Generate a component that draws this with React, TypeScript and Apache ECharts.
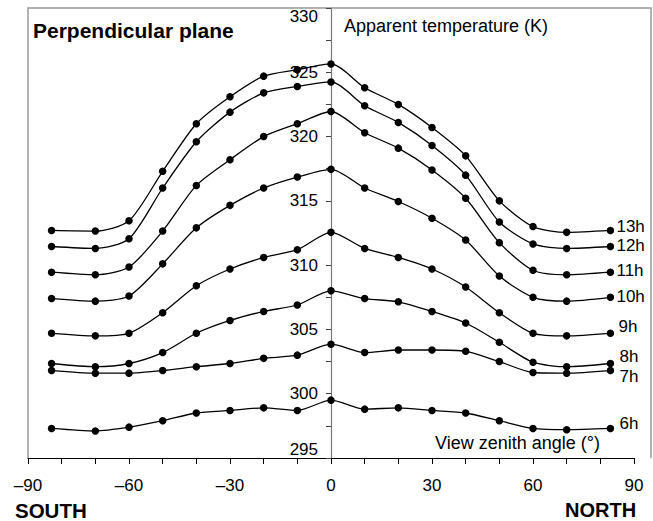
import React, { useEffect, useRef } from "react";
import * as echarts from "echarts";

const zenithAngles = [-83, -70, -60, -50, -40, -30, -20, -10, 0, 10, 20, 30, 40, 50, 60, 70, 83];
const hourNames = ["13h", "12h", "11h", "10h", "9h", "8h", "7h", "6h"];
const t13h = [312.7, 312.65, 313.45, 317.3, 321.0, 323.1, 324.7, 325.2, 325.65, 323.8, 322.5, 320.7, 318.5, 315.0, 313.0, 312.55, 312.7];
const t12h = [311.45, 311.3, 312.05, 316.0, 319.6, 321.9, 323.4, 323.9, 324.25, 322.4, 321.1, 319.3, 317.0, 313.35, 311.65, 311.3, 311.45];
const t11h = [309.45, 309.25, 309.85, 312.65, 316.2, 318.2, 320.0, 321.0, 321.95, 320.3, 319.1, 317.4, 315.2, 311.75, 309.6, 309.25, 309.45];
const t10h = [307.4, 307.2, 307.6, 310.1, 312.9, 314.65, 316.0, 316.85, 317.45, 316.0, 314.95, 313.65, 311.95, 309.15, 307.5, 307.2, 307.5];
const t9h = [304.7, 304.5, 304.7, 306.3, 308.4, 309.7, 310.6, 311.2, 312.55, 311.3, 310.6, 309.7, 308.3, 306.3, 304.7, 304.5, 304.7];
const t8h = [302.35, 302.1, 302.35, 303.2, 304.7, 305.7, 306.4, 306.9, 308.0, 307.4, 307.15, 306.4, 305.5, 304.0, 302.45, 302.1, 302.35];
const t7h = [301.8, 301.6, 301.6, 301.8, 302.1, 302.35, 302.75, 303.0, 303.85, 303.2, 303.4, 303.4, 303.3, 302.5, 301.65, 301.6, 301.8];
const t6h = [297.3, 297.1, 297.4, 297.9, 298.5, 298.7, 298.9, 298.7, 299.5, 298.8, 298.9, 298.7, 298.5, 297.9, 297.3, 297.2, 297.3];
const seriesValues = [t13h, t12h, t11h, t10h, t9h, t8h, t7h, t6h];
const xTickLabels = [-90, -60, -30, 0, 30, 60, 90];
const yTickLabels = [295, 300, 305, 310, 315, 320, 325, 330];

const endLabelOffsets: Record<string, [number, number]> = {
  "13h": [6, -3.5],
  "12h": [6, -1],
  "11h": [6, -2],
  "10h": [6, -1],
  "9h": [8, -6.5],
  "8h": [9, -7.5],
  "7h": [9, 6],
  "6h": [9, -4.5],
};

const FONT = "'Liberation Sans', Arial, Helvetica, sans-serif";
const GRID_LEFT = 28;
const GRID_RIGHT = 19;
const WIDTH = 653;

export default function App() {
  const ref = useRef<HTMLDivElement>(null);
  useEffect(() => {
    if (!ref.current) return;
    const chart = echarts.init(ref.current, undefined, { renderer: "svg" });
    const plotW = WIDTH - GRID_LEFT - GRID_RIGHT;
    const zeroOffset = -(plotW / 2);
    const series = hourNames.map((name, i) => ({
      name,
      type: "line",
      data: zenithAngles.map((x, j) => [x, seriesValues[i][j]]),
      smooth: 0.25,
      symbol: "circle",
      symbolSize: 7.5,
      itemStyle: { color: "#000" },
      lineStyle: { color: "#000", width: 1.3 },
      endLabel: {
        show: true,
        formatter: "{a}",
        distance: 0,
        offset: endLabelOffsets[name],
        fontSize: 17,
        fontFamily: FONT,
        color: "#000",
      },
    }));
    chart.setOption({
      animation: false,
      backgroundColor: "#fff",
      grid: {
        left: GRID_LEFT,
        right: GRID_RIGHT,
        top: 8,
        bottom: 63,
        containLabel: false,
        outerBoundsMode: "none",
      },
      xAxis: {
        type: "value",
        min: -90,
        max: 90,
        interval: 10,
        axisLine: { onZero: false, lineStyle: { color: "#000", width: 1 } },
        axisTick: { show: true, length: 6, lineStyle: { color: "#000" } },
        axisLabel: {
          margin: 19,
          fontSize: 17,
          fontFamily: FONT,
          color: "#000",
          formatter: (v: number) =>
            xTickLabels.includes(v) ? String(v).replace("-", "\u2013") : "",
        },
        splitLine: { show: false },
      },
      yAxis: {
        type: "value",
        position: "left",
        offset: zeroOffset,
        min: 295,
        max: 330,
        interval: 2.5,
        axisLine: { show: true, onZero: false, lineStyle: { color: "#777", width: 1.2 } },
        axisTick: { show: true, length: 5, lineStyle: { color: "#444" } },
        axisLabel: {
          margin: 13,
          fontSize: 17,
          fontFamily: FONT,
          color: "#000",
          verticalAlignMaxLabel: "top",
          verticalAlignMinLabel: "bottom",
          formatter: (v: number) => (yTickLabels.includes(v) ? String(v) : ""),
        },
        splitLine: { show: false },
      },
      graphic: [
        {
          type: "polyline",
          shape: { points: [[28, 458], [28, 8], [651, 8], [651, 458]] },
          style: { stroke: "#999", lineWidth: 1.5, fill: null },
          silent: true,
          z: -1,
        },
        {
          type: "text",
          x: 33,
          y: 30,
          style: { text: "Perpendicular plane", font: `bold 21px ${FONT}`, fill: "#000", verticalAlign: "middle", align: "left" },
        },
        {
          type: "text",
          x: 344,
          y: 25.5,
          style: { text: "Apparent temperature (K)", font: `18px ${FONT}`, fill: "#000", verticalAlign: "middle", align: "left" },
        },
        {
          type: "text",
          x: 435,
          y: 442.5,
          style: { text: "View zenith angle (\u00b0)", font: `18px ${FONT}`, fill: "#000", verticalAlign: "middle", align: "left" },
        },
        {
          type: "text",
          x: 15,
          y: 510.5,
          style: { text: "SOUTH", font: `bold 20.5px ${FONT}`, fill: "#000", verticalAlign: "middle", align: "left" },
        },
        {
          type: "text",
          x: 565,
          y: 509.5,
          style: { text: "NORTH", font: `bold 20px ${FONT}`, fill: "#000", verticalAlign: "middle", align: "left" },
        },
      ],
      series,
    });
    return () => chart.dispose();
  }, []);
  return (
    <div
      ref={ref}
      style={{ position: "fixed", left: 0, top: 0, width: WIDTH, height: 521, background: "#fff" }}
    />
  );
}
